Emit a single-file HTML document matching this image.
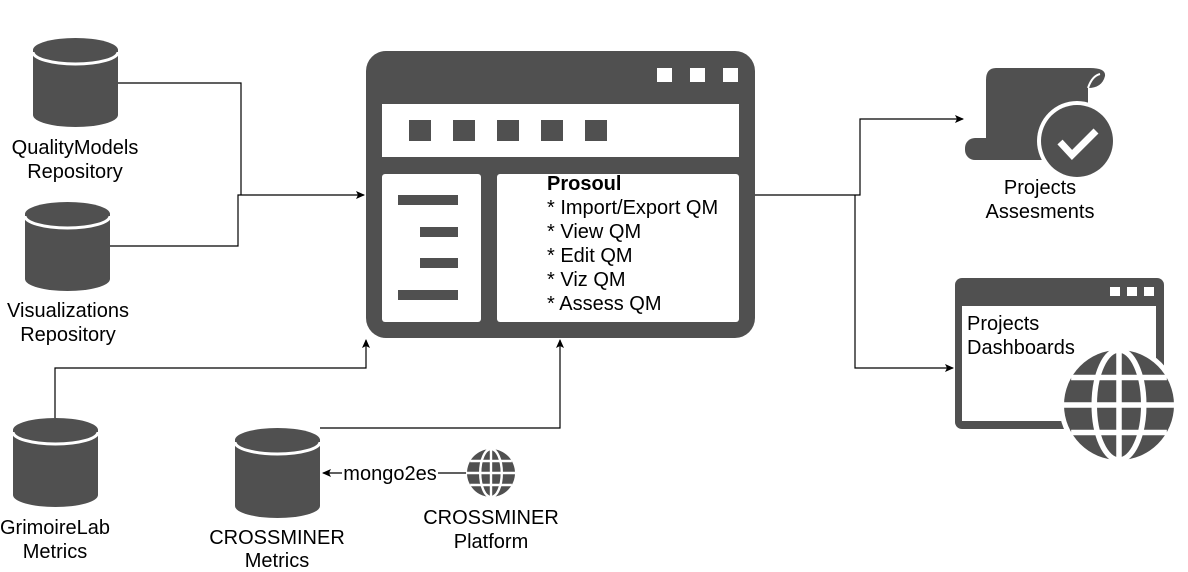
<!DOCTYPE html>
<html><head><meta charset="utf-8"><style>
html,body{margin:0;padding:0;background:#fff}
svg{display:block}
text{font-family:"Liberation Sans",sans-serif;font-size:20px;fill:#000}
</style></head><body>
<svg width="1188" height="572" viewBox="0 0 1188 572" xmlns="http://www.w3.org/2000/svg">
<defs>
<marker id="a" markerWidth="10" markerHeight="10" refX="8" refY="4" orient="auto" markerUnits="userSpaceOnUse">
<path d="M0,0 L9,4 L0,8 L2,4 Z" fill="#000"/></marker>
<g id="globe">
<circle r="1" fill="#505050"/>
<g fill="none" stroke="#fff" stroke-width="0.1">
<ellipse rx="0.45" ry="1"/>
<line x1="0" y1="-1" x2="0" y2="1"/>
<line x1="-1" y1="0" x2="1" y2="0"/>
<line x1="-0.87" y1="-0.5" x2="0.87" y2="-0.5"/>
<line x1="-0.87" y1="0.5" x2="0.87" y2="0.5"/>
</g>
</g>
</defs>

<g fill="none" stroke="#000" stroke-width="1.2">
<polyline points="118,83 241,83 241,195"/>
<polyline points="110,246 238,246 238,195 364,195" marker-end="url(#a)"/>
<polyline points="55,418 55,368 366,368 366,340" marker-end="url(#a)"/>
<polyline points="320,428 560,428 560,340" marker-end="url(#a)"/>
<polyline points="755,195 860,195 860,119 963,119" marker-end="url(#a)"/>
<polyline points="855,195 855,368 953,368" marker-end="url(#a)"/>
<line x1="466" y1="473" x2="323" y2="473" marker-end="url(#a)"/>
</g>
<rect x="342" y="462" width="96" height="22" fill="#fff"/>
<text x="390" y="480" text-anchor="middle">mongo2es</text>

<g fill="#505050">
<path d="M33,50 A42.5,12 0 0 1 118,50 L118,115 A42.5,12 0 0 1 33,115 Z"/>
<path d="M25,214 A42.5,12 0 0 1 110,214 L110,279 A42.5,12 0 0 1 25,279 Z"/>
<path d="M13,430 A42.5,12 0 0 1 98,430 L98,495 A42.5,12 0 0 1 13,495 Z"/>
<path d="M235,440 A42.5,12 0 0 1 320,440 L320,506 A42.5,12 0 0 1 235,506 Z"/>
</g>
<g fill="none" stroke="#fff" stroke-width="3">
<path d="M33,52 A42.5,12 0 0 0 118,52"/>
<path d="M25,216 A42.5,12 0 0 0 110,216"/>
<path d="M13,432 A42.5,12 0 0 0 98,432"/>
<path d="M235,442 A42.5,12 0 0 0 320,442"/>
</g>
<g text-anchor="middle">
<text x="75" y="154">QualityModels</text><text x="75" y="178">Repository</text>
<text x="68" y="317">Visualizations</text><text x="68" y="341">Repository</text>
<text x="55" y="534">GrimoireLab</text><text x="55" y="558">Metrics</text>
<text x="277" y="544">CROSSMINER</text><text x="277" y="567">Metrics</text>
<text x="491" y="524">CROSSMINER</text><text x="491" y="548">Platform</text>
<text x="1040" y="194">Projects</text><text x="1040" y="218">Assesments</text>
</g>

<rect x="366" y="51" width="389" height="287" rx="20" fill="#505050"/>
<g fill="#fff">
<rect x="657" y="68" width="15" height="14"/><rect x="690" y="68" width="15" height="14"/><rect x="723" y="68" width="15" height="14"/>
<rect x="382" y="104" width="357" height="53"/>
<rect x="382" y="174" width="99" height="148" rx="3"/>
<rect x="497" y="174" width="242" height="148" rx="3"/>
</g>
<g fill="#505050">
<rect x="409" y="120" width="22" height="21"/><rect x="453" y="120" width="22" height="21"/><rect x="497" y="120" width="22" height="21"/><rect x="541" y="120" width="22" height="21"/><rect x="585" y="120" width="22" height="21"/>
<rect x="398" y="195" width="60" height="10"/><rect x="420" y="227" width="38" height="10"/><rect x="420" y="258" width="38" height="10"/><rect x="398" y="290" width="60" height="10"/>
</g>
<text x="547" y="190" font-weight="bold">Prosoul</text>
<text x="547" y="214">* Import/Export QM</text>
<text x="547" y="238">* View QM</text>
<text x="547" y="262">* Edit QM</text>
<text x="547" y="286">* Viz QM</text>
<text x="547" y="310">* Assess QM</text>

<use href="#globe" transform="translate(491,473) scale(24)"/>

<g fill="#505050">
<path d="M996,68 L1090,68 Q1106,68 1105,76 Q1102,88 1088,88 L1088,125 L1040,138 L986,138 L986,80 Q986,68 996,68 Z"/>
<rect x="965" y="138" width="90" height="22" rx="10"/>
</g>
<path d="M1088,88 Q1092,76 1100,74" fill="none" stroke="#fff" stroke-width="2"/>
<circle cx="1077" cy="141" r="40" fill="#fff"/>
<circle cx="1077" cy="141" r="36" fill="#505050"/>
<polyline points="1060,142 1072,155 1096,131" fill="none" stroke="#fff" stroke-width="7"/>

<rect x="955" y="278" width="209" height="151" rx="7" fill="#505050"/>
<rect x="962" y="306" width="194" height="115" fill="#fff"/>
<g fill="#fff"><rect x="1110" y="287" width="10" height="9"/><rect x="1127" y="287" width="10" height="9"/><rect x="1144" y="287" width="10" height="9"/></g>
<text x="967" y="330">Projects</text><text x="967" y="354">Dashboards</text>
<circle cx="1119" cy="405" r="60" fill="#fff"/>
<use href="#globe" transform="translate(1119,405) scale(55)"/>
</svg>
</body></html>
